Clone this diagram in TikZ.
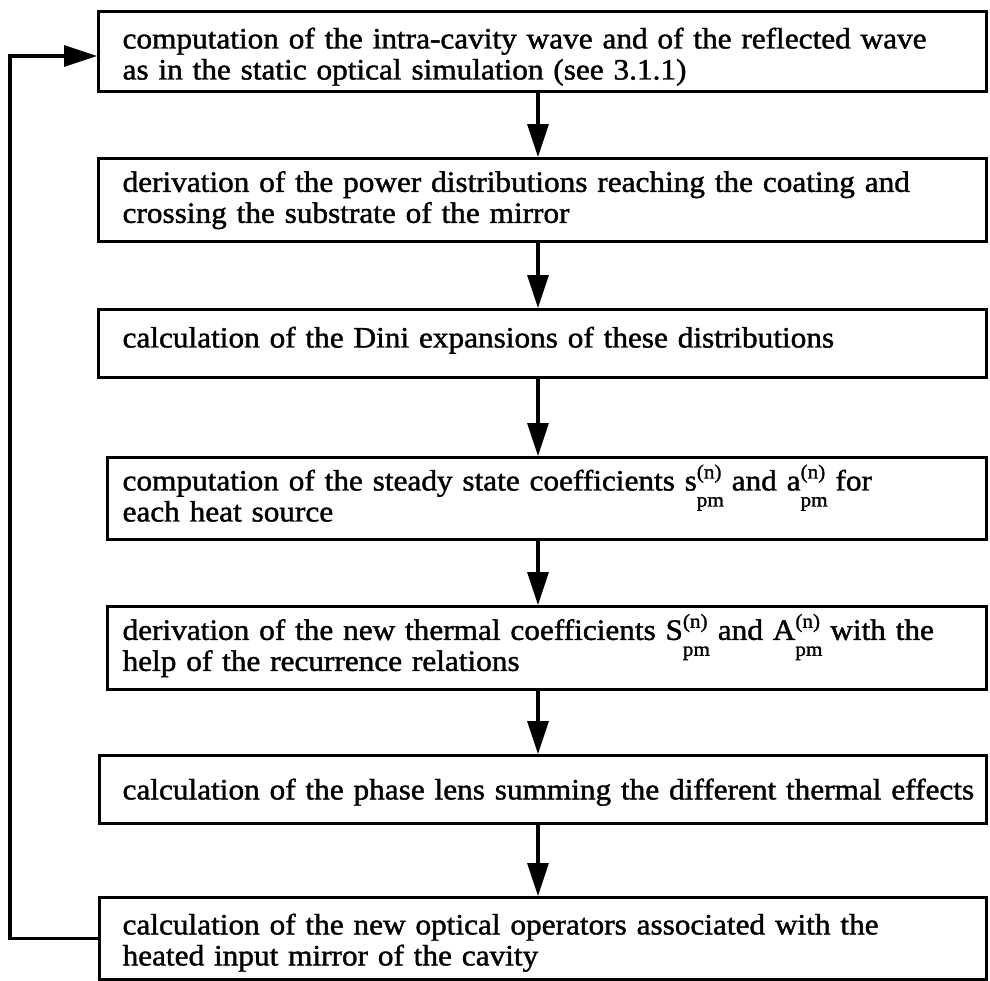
\documentclass[tikz,border=0pt]{standalone}
\usepackage{fontspec}
\setmainfont{Liberation Serif}[FakeStretch=1.06,FakeBold=1.4]
\usetikzlibrary{arrows.meta}
\newcommand\tp[1]{\rule{0pt}{#1pt}}
\newcommand\bt[1]{\rule[-#1pt]{0pt}{#1pt}}
\newcommand\scr{\fontsize{20}{20}\selectfont}
\newcommand\cf[1]{#1\smash{\rlap{\raisebox{12pt}{\scr(n)}}\raisebox{-16pt}{\scr pm}}\hspace{-2pt}}
\begin{document}
\begin{tikzpicture}[x=1pt,y=-1pt,
  box/.style={draw, line width=3.2pt, rectangle, anchor=north west, inner ysep=0pt,
    align=left, font=\fontsize{29.5}{31}\selectfont},
  arr/.style={line width=3.2pt, -{Triangle[length=33pt,width=21pt]}}]
\useasboundingbox (0,0) rectangle (990,980);
\node[box, minimum width=888pt, minimum height=80pt, inner xsep=24pt, text width=840pt] (b1) at (97,10)
  {\tp{31}computation of the intra-cavity wave and of the reflected wave\\as in the static optical simulation (see 3.1.1)\bt{6}};
\node[box, minimum width=888pt, minimum height=83pt, inner xsep=24pt, text width=840pt] (b2) at (97,157)
  {\tp{19}derivation of the power distributions reaching the coating and\\crossing the substrate of the mirror\bt{6}};
\node[box, minimum width=888pt, minimum height=68pt, inner xsep=24pt, text width=840pt] (b3) at (97,308)
  {\tp{19}calculation of the Dini expansions of these distributions\bt{13}};
\node[box, minimum width=879pt, minimum height=82pt, inner xsep=15pt, text width=849pt] (b4) at (106,456)
  {\tp{19}computation of the steady state coefficients \cf{s} and \cf{a} for\\each heat source\bt{6}};
\node[box, minimum width=879pt, minimum height=83pt, inner xsep=15pt, text width=849pt] (b5) at (106,605)
  {\tp{19}derivation of the new thermal coefficients \cf{S} and \cf{A} with the\\help of the recurrence relations\bt{6}};
\node[box, minimum width=887pt, minimum height=68pt, inner xsep=23pt, text width=841pt] (b6) at (98,754)
  {\mbox{\tp{26}calculation of the phase lens summing the different thermal effects\bt{6}}};
\node[box, minimum width=887pt, minimum height=82pt, inner xsep=23pt, text width=841pt] (b7) at (98,896)
  {\tp{29}calculation of the new optical operators associated with the\\heated input mirror of the cavity\bt{6}};
\coordinate (ax) at (538,0);
\coordinate (fb) at (10,56);
\draw[arr] (b1.south -| ax) -- (b2.north -| ax);
\draw[arr] (b2.south -| ax) -- (b3.north -| ax);
\draw[arr] (b3.south -| ax) -- (b4.north -| ax);
\draw[arr] (b4.south -| ax) -- (b5.north -| ax);
\draw[arr] (b5.south -| ax) -- (b6.north -| ax);
\draw[arr] (b6.south -| ax) -- (b7.north -| ax);
\draw[arr] (b7.west) -| (fb) -- (fb -| b1.west);
\end{tikzpicture}
\end{document}
